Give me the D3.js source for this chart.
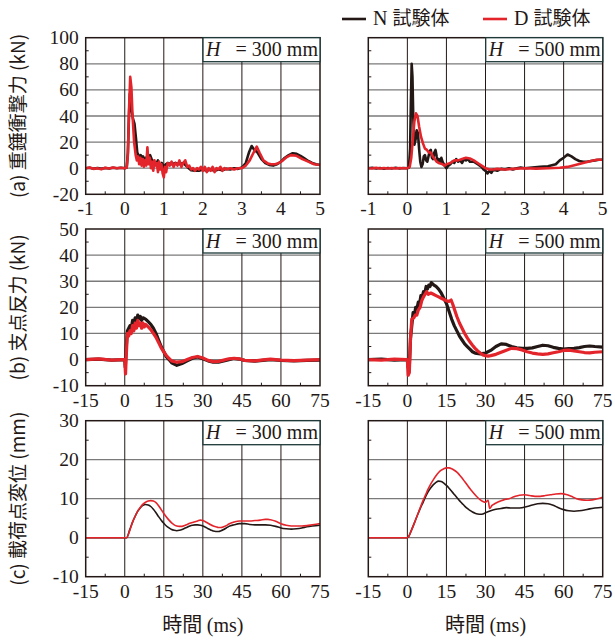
<!DOCTYPE html>
<html>
<head>
<meta charset="utf-8">
<title></title>
<script src="https://d3js.org/d3.v7.min.js"></script>
<style>
  body { margin: 0; background: #fff; }
</style>
</head>
<body>
<svg width="615" height="640"></svg>
<script>
// tick values
var aTicksX = [-1, 0, 1, 2, 3, 4, 5];
var aTicksY = [-20, 0, 20, 40, 60, 80, 100];
var bcTicksX = [-15, 0, 15, 30, 45, 60, 75];
var bTicksY = [-10, 0, 10, 20, 30, 40, 50];
var cTicksY = [-10, 0, 10, 20, 30];

var rowLabels = ["(a) 重錘衝撃力 (kN)", "(b) 支点反力 (kN)", "(c) 載荷点変位 (mm)"];
var heightLabels = ["300 mm", "500 mm"];
var seriesNames = ["N 試験体", "D 試験体"];

// (a) impact force, H = 300 mm
var aN300 = [[-1,0],[-0.9,0.3],[-0.8,-0.4],[-0.7,0.2],[-0.6,-0.5],[-0.5,0.2],[-0.4,-0.3],[-0.3,0.4],[-0.2,0],[-0.1,0.3],[0,0],[0.05,0.5],
  [0.08,12],[0.11,42],[0.13,57],[0.17,45],[0.21,38],[0.25,34],[0.29,22],[0.32,12],[0.35,10],[0.38,7],[0.41,10],[0.44,6],[0.47,9],[0.5,5],
  [0.53,8],[0.56,4],[0.6,9],[0.65,10],[0.7,6],[0.75,5],[0.8,3],[0.85,6],[0.9,2],[0.95,4],[1.0,1],[1.05,3],[1.1,4],[1.2,3],[1.3,4],[1.4,3],
  [1.5,4],[1.6,1],[1.7,-1.5],[1.8,-2],[1.9,-2],[2.0,-1],[2.1,-2],[2.2,-1],[2.3,-2],[2.4,-1],[2.5,-1.5],[2.6,-0.5],[2.7,-1],[2.8,0],[2.9,-0.5],
  [3.0,0.5],[3.1,4],[3.18,12],[3.25,17],[3.32,14],[3.4,12],[3.5,7],[3.6,4],[3.7,2.5],[3.8,2],[3.9,3],[4.0,5],[4.1,8],[4.2,10],[4.3,11.5],
  [4.4,11],[4.5,9.5],[4.6,7.5],[4.7,5.5],[4.8,4],[4.9,3],[5.0,2.5]];
var aD300 = [[-1,0],[-0.9,0.5],[-0.8,-0.5],[-0.7,0],[-0.6,-0.8],[-0.5,0.3],[-0.4,-0.3],[-0.3,0.5],[-0.2,0],[-0.1,0.4],[0,0],[0.05,0.5],
  [0.08,10],[0.11,45],[0.14,70],[0.17,62],[0.2,40],[0.24,20],[0.28,10],[0.31,6],[0.34,9],[0.37,3],[0.4,8],[0.43,2],[0.46,7],[0.49,1],
  [0.52,6],[0.55,2],[0.58,16],[0.61,3],[0.64,8],[0.67,0],[0.7,5],[0.73,-2],[0.76,6],[0.79,2],[0.82,4],[0.85,-3],[0.88,5],[0.91,-1],
  [0.94,3],[0.97,-4],[1.0,-7],[1.03,1],[1.06,-3],[1.1,4],[1.15,2],[1.2,5],[1.25,1],[1.3,4],[1.35,2],[1.4,6],[1.45,1],[1.5,4],[1.55,6],
  [1.6,1],[1.65,2],[1.7,-1],[1.75,0],[1.8,-2],[1.85,0],[1.9,-1],[1.95,1],[2.0,-2],[2.05,1],[2.1,-3],[2.15,0],[2.2,-2],[2.25,1],[2.3,-3],
  [2.35,0],[2.4,-1],[2.45,1],[2.5,-2],[2.55,0],[2.6,-1],[2.7,0],[2.8,-1],[2.9,0],[3.0,0],[3.1,2],[3.2,6],[3.3,12],[3.38,16.5],[3.45,12],
  [3.55,6],[3.67,3.5],[3.75,3],[3.85,3],[3.95,4],[4.05,6],[4.15,8.5],[4.25,10],[4.4,9.5],[4.55,7],[4.7,5],[4.85,3],[5.0,2.5]];

// (a) impact force, H = 500 mm
var aN500 = [[-1,0],[-0.9,0.3],[-0.8,-0.3],[-0.7,0.2],[-0.6,-0.4],[-0.5,0.2],[-0.4,-0.2],[-0.3,0.3],[-0.2,-0.2],[-0.1,0.2],[0,0],[0.04,0.5],
  [0.07,15],[0.09,50],[0.11,80],[0.13,70],[0.15,40],[0.18,18],[0.21,22],[0.24,29],[0.27,27],[0.3,15],[0.33,5],[0.36,1],[0.39,3],[0.42,9],
  [0.45,10],[0.48,6],[0.51,5],[0.54,9],[0.57,13],[0.6,14],[0.63,8],[0.66,7],[0.69,12],[0.72,14],[0.75,9],[0.78,5],[0.81,7],[0.84,4],
  [0.87,8],[0.9,5],[0.95,2],[1.0,0],[1.05,2],[1.1,3],[1.15,5],[1.2,4],[1.25,7],[1.3,5],[1.35,6],[1.4,4],[1.45,7],[1.5,6],[1.55,7],[1.6,5],
  [1.7,5],[1.8,3],[1.9,1],[1.95,-1],[2.0,-2],[2.05,-4],[2.1,-2],[2.15,-3.5],[2.2,-1],[2.3,-2],[2.4,-0.5],[2.5,-1],[2.6,0],[2.7,-1],[2.8,0],
  [2.9,0.5],[3.0,0],[3.2,0.5],[3.4,1],[3.6,1.5],[3.8,3],[3.9,6],[4.0,8],[4.1,10.5],[4.2,9],[4.3,7],[4.4,5.5],[4.5,5],[4.6,5],[4.7,5.5],
  [4.8,6],[4.9,6.5],[5.0,6.5]];
var aD500 = [[-1,0],[-0.9,-0.2],[-0.8,0.3],[-0.7,-0.2],[-0.6,0.2],[-0.5,-0.3],[-0.4,0.2],[-0.3,-0.2],[-0.2,0.2],[-0.1,0],[0,0],[0.06,1],
  [0.1,8],[0.14,22],[0.18,36],[0.22,42],[0.26,40],[0.3,32],[0.35,24],[0.4,19],[0.45,15],[0.5,14],[0.55,12],[0.6,12],[0.65,9],[0.7,7],
  [0.75,5],[0.8,4],[0.85,3.5],[0.9,3],[0.96,2],[1.0,3],[1.05,3.5],[1.1,4],[1.2,6],[1.3,6],[1.4,7],[1.5,8],[1.6,7.5],[1.7,6],[1.8,4],
  [1.9,2],[2.0,0],[2.1,-1],[2.2,-1],[2.3,-0.5],[2.5,-1],[2.7,-0.5],[3.0,0],[3.3,-0.3],[3.6,0],[3.9,0.3],[4.1,1],[4.3,2.5],[4.5,4],
  [4.7,5.5],[4.85,6.5],[5.0,6.5]];

// (b) support reaction
var bN300 = [[-15,0],[-10,0.2],[-5,-0.2],[0,0],[0.2,-3],[0.6,5],[1,11],[2,13],[2.5,12],[3,15],[3.5,13.5],[4,16],[4.5,14.5],[5,17],
  [5.5,15.5],[6,16.5],[6.5,15],[7,16],[8,15.5],[9,14.5],[10,13.5],[11,12],[12,10],[13,7.5],[14,5],[15,3],[16,1],[17,0],[18,-1.2],
  [20,-2.2],[22,-1.5],[24,-0.5],[26,0.5],[28,1],[30,0.3],[32,-0.5],[34,-1],[36,-1],[38,-0.5],[40,0],[42,0.4],[44,0.2],[46,-0.3],
  [50,-0.6],[54,-0.2],[56,0],[60,-0.3],[65,-0.5],[70,-0.3],[75,-0.2]];
var bD300 = [[-15,0],[-10,0.3],[-5,-0.2],[-1,0],[0,0],[0.3,-5.5],[0.6,2],[1,10],[1.5,9],[2,11],[2.5,10],[3,13],[3.5,11],[4,14],
  [4.5,12],[5,15],[5.5,13],[6,14],[6.5,12],[7,14],[7.5,12.5],[8,13.5],[9,12.5],[10,11.5],[11,10],[12,8.5],[13,6.5],[14,4.5],[15,3],
  [16,1.5],[17,0.5],[18,-0.5],[20,-1],[22,-0.8],[24,0],[26,0.8],[28,1.2],[30,0.6],[32,-0.3],[34,-0.8],[36,-0.7],[38,-0.2],[40,0.3],
  [42,0.5],[44,0.3],[46,-0.3],[50,-0.5],[54,0],[56,0.2],[60,-0.2],[65,-0.4],[70,-0.2],[75,0]];
var bN500 = [[-15,0],[-10,0.2],[-5,-0.2],[0,0],[0.3,-3],[0.7,-4],[1.2,8],[1.7,13],[2.2,18],[2.7,17],[3.2,20],[3.7,19.5],[4.2,22],
  [4.7,21.5],[5.2,24.5],[5.7,24],[6.2,26],[6.7,25.5],[7.2,28],[7.7,27],[8.2,28.5],[8.7,28],[9.2,29.5],[9.7,29],[10.2,28.5],[11,28],
  [12,27],[13,25.5],[14,23.5],[15,21.5],[16,18.5],[17,15.5],[18,13],[19,11],[20,9],[21,7.5],[22,6],[23,5],[24,4],[25,3],[26,2.5],
  [28,2.2],[30,2.5],[32,3.5],[34,5],[36,6],[38,5.8],[40,5],[42,4.5],[44,4.3],[46,4.3],[48,4.5],[50,5],[52,5.5],[54,5.3],[56,4.7],
  [58,4.3],[60,4],[62,4.2],[64,4.3],[66,4.6],[68,5],[70,5.2],[72,5],[75,4.8]];
var bD500 = [[-15,0],[-10,-0.2],[-5,0.2],[0,0],[0.3,-6],[0.75,-5],[1.2,8],[1.7,15.5],[2.5,16],[3,17],[3.6,17],[4.2,19],[4.9,20],
  [5.5,22.5],[6.2,24],[6.8,25],[7.4,26],[8,25],[9,25.5],[10,25],[11,24.5],[12,24],[13,23.5],[14,23],[15,22.5],[16,22.3],[16.8,22.8],
  [17.5,21],[18,19.5],[19,16.5],[20,14],[21,12],[22,10],[23,8.3],[24,6.8],[25,5.5],[26,4.3],[27,3.3],[28,2.5],[29,1.8],[30,1.5],
  [31,1.3],[32,1.5],[34,2],[36,2.8],[38,3.6],[40,4.3],[42,4.2],[44,3.7],[46,3],[48,2.5],[50,2.2],[52,2],[54,2.2],[56,2.6],[58,3],
  [60,3.5],[62,3.6],[64,3.3],[66,3],[68,2.7],[70,2.6],[72,2.8],[75,3]];

// (c) displacement at loading point
var cN300 = [[-15,0],[0,0],[0.7,0],[2,2.2],[3,4],[4,5.5],[5,6.8],[6,7.7],[7,8.3],[8,8.5],[9,8.4],[10,8],[11,7.3],[12,6.4],[13,5.4],
  [14,4.5],[15,3.7],[16,3],[17,2.5],[18,2.1],[19,1.9],[20,1.8],[21,1.9],[22,2.1],[23,2.4],[24,2.7],[25,3],[26,3.2],[27,3.3],[28,3.3],
  [29,3.2],[30,3],[31,2.7],[32,2.3],[33,2],[34,1.7],[35,1.6],[36,1.6],[37,1.8],[38,2.1],[39,2.5],[40,2.9],[42,3.3],[44,3.6],[46,3.6],
  [48,3.4],[50,3.3],[52,3.3],[54,3.3],[56,3.2],[58,2.9],[60,2.5],[62,2.3],[64,2.2],[66,2.3],[68,2.5],[70,2.8],[72,3],[75,3.2]];
var cD300 = [[-15,0],[0,0],[0.7,0],[2,2],[3,4],[4,5.5],[5,6.8],[6,7.8],[7,8.6],[8,9.1],[9,9.4],[10,9.5],[11,9.4],[12,9],[13,8.2],
  [14,7.2],[15,6.2],[16,5.3],[17,4.5],[18,3.8],[19,3.3],[20,3],[21,2.9],[22,2.9],[23,3.1],[24,3.4],[25,3.7],[26,3.9],[27,4.1],[28,4.3],
  [29,4.5],[30,4.4],[31,4.1],[32,3.7],[33,3.3],[34,3],[35,2.8],[36,2.6],[37,2.6],[38,2.8],[39,3.1],[40,3.5],[42,4],[44,4.3],[46,4.3],
  [48,4.3],[50,4.4],[52,4.5],[54,4.7],[55,4.7],[56,4.6],[58,4.2],[60,3.6],[62,3.2],[64,3],[66,3],[68,3],[70,3.1],[72,3.3],[75,3.6]];
var cN500 = [[-15,0],[0,0],[0.5,0.3],[1.5,1.8],[3,4.3],[4,6],[5,7.6],[6,9],[7,10.5],[8,11.8],[9,12.8],[10,13.6],[11,14.2],[12,14.5],
  [13,14.4],[14,14],[15,13.4],[16,12.7],[17,11.9],[18,11.1],[19,10.3],[20,9.5],[21,8.8],[22,8.1],[23,7.5],[24,7],[25,6.6],[26,6.3],
  [27,6.1],[28,6],[29,6.1],[30,6.4],[32,6.9],[34,7.3],[36,7.5],[38,7.7],[40,7.6],[42,7.6],[44,7.7],[46,8],[48,8.4],[50,8.7],[52,8.8],
  [54,8.7],[56,8.3],[58,7.7],[60,7.2],[62,6.9],[64,6.8],[66,6.9],[68,7.1],[70,7.4],[72,7.6],[75,7.8]];
var cD500 = [[-15,0],[0,0],[0.5,0.3],[1.5,1.8],[3,4.3],[4,6],[5,7.8],[6,9.5],[7,11],[8,12.5],[9,13.8],[10,14.9],[11,15.9],[12,16.7],
  [13,17.3],[14,17.7],[15,17.9],[16,17.9],[17,17.7],[18,17.3],[19,16.8],[20,16.1],[21,15.3],[22,14.4],[23,13.5],[24,12.6],[25,11.8],
  [26,11],[27,10.3],[28,9.7],[29,9.3],[30,9.1],[31,9.6],[31.6,7.5],[32.5,8.3],[33.5,8.7],[35,9.2],[37,9.7],[39,10],[41,10.5],[43,10.9],
  [45,11],[47,10.8],[49,10.6],[51,10.6],[53,10.8],[55,11],[57,11.2],[59,11.3],[61,11.1],[63,10.6],[65,10],[67,9.7],[69,9.6],[71,9.7],
  [73,10],[75,10.4]];

var black = "#231815", red = "#e3242b";
var serif = "'Liberation Serif', 'Times New Roman', serif";
var cjk = "'Noto Sans CJK JP', 'Noto Sans', sans-serif";

var svg = d3.select("svg");

var cols = [{x0: 85.7, x1: 320}, {x0: 368.3, x1: 602.7}];
var rows = [
  {y0: 37.7, y1: 194.3, xd: [-1, 5], xt: aTicksX, yd: [-20, 100], yt: aTicksY, series: [[aN300, aD300], [aN500, aD500]], sw: 2.6, curve: d3.curveLinear},
  {y0: 229, y1: 385.7, xd: [-15, 75], xt: bcTicksX, yd: [-10, 50], yt: bTicksY, series: [[bN300, bD300], [bN500, bD500]], sw: 3.2, curve: d3.curveLinear},
  {y0: 420.7, y1: 576.7, xd: [-15, 75], xt: bcTicksX, yd: [-10, 30], yt: cTicksY, series: [[cN300, cD300], [cN500, cD500]], sw: 1.6, curve: d3.curveMonotoneX}
];

rows.forEach(function(r, ri) {
  cols.forEach(function(c, ci) {
    var x = d3.scaleLinear().domain(r.xd).range([c.x0, c.x1]);
    var y = d3.scaleLinear().domain(r.yd).range([r.y1, r.y0]);
    var g = svg.append("g");
    var xStep = r.xt[1] - r.xt[0], yStep = r.yt[1] - r.yt[0];

    // horizontal grid
    g.selectAll(".hg").data(r.yt.slice(1, -1)).enter().append("line")
      .attr("x1", c.x0).attr("x2", c.x1)
      .attr("y1", function(d) { return y(d); }).attr("y2", function(d) { return y(d); })
      .attr("stroke", "#7a7a7a").attr("stroke-width", 1.3);
    // vertical grid
    g.selectAll(".vg").data(r.xt.slice(1, -1)).enter().append("line")
      .attr("y1", r.y0).attr("y2", r.y1)
      .attr("x1", function(d) { return x(d); }).attr("x2", function(d) { return x(d); })
      .attr("stroke", black).attr("stroke-width", 1);

    // minor ticks, inward
    var minorY = r.yt.slice(0, -1).map(function(d) { return d + yStep / 2; });
    var minorX = r.xt.slice(0, -1).map(function(d) { return d + xStep / 2; });
    g.selectAll(".my").data(minorY).enter().append("line")
      .attr("x1", c.x0).attr("x2", c.x0 + 3)
      .attr("y1", function(d) { return y(d); }).attr("y2", function(d) { return y(d); })
      .attr("stroke", black).attr("stroke-width", 1);
    g.selectAll(".mx").data(minorX).enter().append("line")
      .attr("y1", r.y1).attr("y2", r.y1 - 3)
      .attr("x1", function(d) { return x(d); }).attr("x2", function(d) { return x(d); })
      .attr("stroke", black).attr("stroke-width", 1);

    // curves: N first, D on top
    var line = d3.line().curve(r.curve)
      .x(function(d) { return x(d[0]); })
      .y(function(d) { return y(d[1]); });
    [black, red].forEach(function(col, si) {
      g.append("path").datum(r.series[ci][si])
        .attr("fill", "none").attr("stroke", col)
        .attr("stroke-width", r.sw).attr("stroke-linejoin", "round")
        .attr("d", line);
    });

    // frame
    g.append("rect").attr("x", c.x0).attr("y", r.y0)
      .attr("width", c.x1 - c.x0).attr("height", r.y1 - r.y0)
      .attr("fill", "none").attr("stroke", black).attr("stroke-width", 1.5);

    // x tick labels
    g.selectAll(".xl").data(r.xt).enter().append("text")
      .attr("x", function(d) { return x(d); }).attr("y", r.y1 + 21)
      .attr("text-anchor", "middle")
      .attr("font-family", serif).attr("font-size", 19.5).attr("fill", black)
      .text(function(d) { return String(d); });

    // y tick labels on left column only
    if (ci === 0) {
      g.selectAll(".yl").data(r.yt).enter().append("text")
        .attr("x", c.x0 - 7).attr("y", function(d) { return y(d) + 6.5; })
        .attr("text-anchor", "end")
        .attr("font-family", serif).attr("font-size", 19.5).attr("fill", black)
        .text(function(d) { return String(d); });
    }

    // H box
    var bw = 117, bh = 24;
    g.append("rect").attr("x", c.x1 - bw).attr("y", r.y0)
      .attr("width", bw).attr("height", bh)
      .attr("fill", "#fff").attr("stroke", "#1d3838").attr("stroke-width", 1.3);
    g.append("text").attr("x", c.x1 - bw + 3).attr("y", r.y0 + 18.5)
      .attr("font-family", serif).attr("font-size", 20).attr("font-style", "italic").attr("fill", black)
      .text("H");
    g.append("text").attr("x", c.x1 - 2).attr("y", r.y0 + 18.5)
      .attr("text-anchor", "end")
      .attr("font-family", serif).attr("font-size", 20).attr("fill", black)
      .text("= " + heightLabels[ci]);

    // x title on bottom row
    if (ri === 2) {
      var t = g.append("text").attr("x", (c.x0 + c.x1) / 2).attr("y", 632)
        .attr("text-anchor", "middle").attr("fill", black);
      t.append("tspan").attr("font-family", cjk).attr("font-size", 20).text("時間 ");
      t.append("tspan").attr("font-family", serif).attr("font-size", 20).text("(ms)");
    }
  });

  // row label
  var cy = (r.y0 + r.y1) / 2;
  svg.append("text")
    .attr("transform", "translate(25," + cy + ") rotate(-90)")
    .attr("text-anchor", "middle")
    .attr("font-family", cjk).attr("font-size", 19).attr("fill", black)
    .text(rowLabels[ri]);
});

// legend
var legX = [342, 483];
seriesNames.forEach(function(name, i) {
  svg.append("line").attr("x1", legX[i]).attr("x2", legX[i] + 24)
    .attr("y1", 19).attr("y2", 19)
    .attr("stroke", i === 0 ? black : red).attr("stroke-width", 2.6);
  var parts = name.split(" ");
  var t = svg.append("text").attr("x", legX[i] + 31).attr("y", 25).attr("fill", black);
  t.append("tspan").attr("font-family", serif).attr("font-size", 20).text(parts[0] + " ");
  t.append("tspan").attr("font-family", cjk).attr("font-size", 19).text(parts[1]);
});
</script>
</body>
</html>
